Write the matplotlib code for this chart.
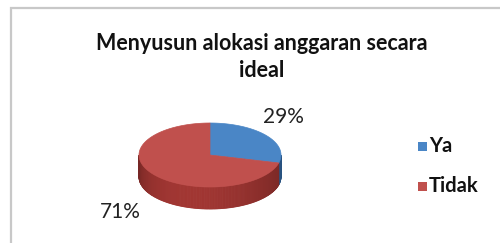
import numpy as np
import matplotlib
matplotlib.use("Agg")
import matplotlib.pyplot as plt
from matplotlib.patches import Polygon, Rectangle

# ---- data ----
title = "Menyusun alokasi anggaran secara\nideal"
categories = ["Ya", "Tidak"]
values = [29, 71]
colors_top = ["#4A86C6", "#C0504D"]
colors_side = ["#2F5F93", "#8A2E2B"]

# ---- layout (pixel coordinates) ----
W, H = 500, 243
cx, cy = 210, 155        # pie centre
rx, ry = 71, 32          # ellipse radii
depth = 22               # 3D thickness
start_angle = 90         # first slice starts at 12 o'clock, goes clockwise

fig = plt.figure(figsize=(W / 100, H / 100), dpi=100)
ax = fig.add_axes([0, 0, 1, 1])
ax.set_xlim(0, W)
ax.set_ylim(H, 0)
ax.axis("off")

# chart border (top + left)
ax.plot([10.5, 10.5, W], [H, 8.5, 8.5], color="#C8C8C8", lw=1.6,
        solid_joinstyle="miter", zorder=1)

def pt(theta_deg, dy=0.0):
    t = np.radians(theta_deg)
    return cx + rx * np.cos(t), cy - ry * np.sin(t) + dy

total = float(sum(values))
angles = []
a0 = start_angle
for v in values:
    a1 = a0 - 360.0 * v / total
    angles.append((a0, a1))
    a0 = a1

def side_segments(a_hi, a_lo):
    segs = []
    for shift in (0, -360, 360):
        hi, lo = a_hi + shift, a_lo + shift
        s_hi, s_lo = min(hi, 0), max(lo, -180)
        if s_hi > s_lo:
            segs.append((s_hi, s_lo))
    return segs

for (a_hi, a_lo), cs in zip(angles, colors_side):
    base = np.array(matplotlib.colors.to_rgb(cs))
    for s_hi, s_lo in side_segments(a_hi, a_lo):
        n = max(int(abs(s_hi - s_lo)), 2)
        th = np.linspace(s_hi, s_lo, n + 1)
        for t0, t1 in zip(th[:-1], th[1:]):
            tm = np.radians((t0 + t1) / 2)
            f = 0.85 + 0.3 * max(0.0, -np.sin(tm)) * (1 - 0.4 * np.cos(tm))
            col = np.clip(base * f, 0, 1)
            p0, p1 = pt(t0), pt(t1)
            q1, q0 = pt(t1, depth), pt(t0, depth)
            ax.add_patch(Polygon([p0, p1, q1, q0], closed=True,
                                 facecolor=col, edgecolor=col, lw=0.6, zorder=2))

# top faces
for (a_hi, a_lo), ct in zip(angles, colors_top):
    th = np.linspace(a_hi, a_lo, 200)
    pts = [(cx, cy)] + [pt(t) for t in th]
    ax.add_patch(Polygon(pts, closed=True, facecolor=ct, edgecolor=ct,
                         lw=0.5, zorder=3))

# percentage labels
label_pos = [(283, 117), (120, 212)]
for v, (lx, ly) in zip(values, label_pos):
    ax.text(lx, ly, f"{v}%", ha="center", va="center", fontsize=15,
            family="Lato", color="#222222", zorder=4)

# title
ax.text(262, 57, title, ha="center", va="center", fontsize=15.5,
        family="Lato", fontweight="bold", color="#111111",
        linespacing=1.4, zorder=4)

# legend
leg_y = [146, 186]
for cat, ct, ly in zip(categories, colors_top, leg_y):
    ax.add_patch(Rectangle((418, ly - 4.5), 9, 9, facecolor=ct,
                           edgecolor="none", zorder=4))
    ax.text(429, ly, cat, ha="left", va="center", fontsize=14.5,
            family="Lato", fontweight="bold", color="#111111", zorder=4)

fig.savefig("out.png", dpi=100)
